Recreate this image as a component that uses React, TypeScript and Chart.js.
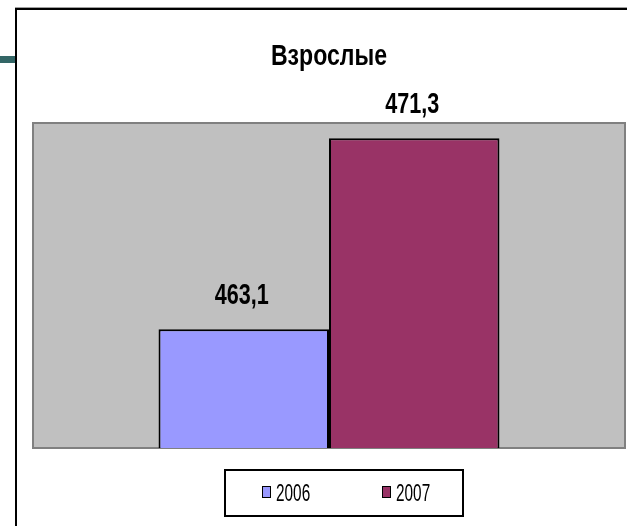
import React, { useEffect, useRef } from 'react';
import { Chart, registerables } from 'chart.js';

Chart.register(...registerables);

const chartTitle = 'Взрослые';
const categories = ['Взрослые'];
const seriesNames = ['2006', '2007'];
const values2006 = [463.1];
const values2007 = [471.3];
const seriesColors = ['#9999FF', '#993366'];
const yMin = 458;
const yMax = 472;

const FONT = "'Liberation Sans', Arial, sans-serif";

function narrowText(ctx: CanvasRenderingContext2D, text: string, x: number, y: number, align: CanvasTextAlign, sx: number) {
  ctx.save();
  ctx.translate(x, y);
  ctx.scale(sx, 1);
  ctx.textAlign = align;
  ctx.textBaseline = 'alphabetic';
  ctx.fillText(text, 0, 0);
  ctx.restore();
}

const decorPlugin = {
  id: 'decor',
  beforeDraw(chart: any) {
    const ctx = chart.ctx;
    const { left, top, right, bottom } = chart.chartArea;
    ctx.save();
    ctx.fillStyle = '#FFFFFF';
    ctx.fillRect(0, 0, chart.width, chart.height);
    // slide frame
    ctx.fillStyle = '#336666';
    ctx.fillRect(0, 56, 15, 7);
    ctx.fillStyle = '#A0A0A0';
    ctx.fillRect(15, 7, chart.width - 15, 1);
    ctx.fillStyle = '#000000';
    ctx.fillRect(15, 8, chart.width - 15, 2);
    ctx.fillRect(15, 8, 2, chart.height - 8);
    // plot area
    ctx.fillStyle = '#C0C0C0';
    ctx.fillRect(left, top, right - left, bottom - top + 1);
    ctx.strokeStyle = '#808080';
    ctx.lineWidth = 2;
    ctx.strokeRect(left + 1, top + 1, right - left - 2, bottom - top - 1);
    ctx.restore();
  },
  afterDatasetsDraw(chart: any) {
    const ctx = chart.ctx;
    ctx.save();
    ctx.fillStyle = '#000000';
    ctx.font = `bold 30px ${FONT}`;
    chart.data.datasets.forEach((ds: any, i: number) => {
      const meta = chart.getDatasetMeta(i);
      meta.data.forEach((bar: any, j: number) => {
        const v = ds.data[j] as number;
        narrowText(ctx, v.toFixed(1).replace('.', ','), bar.x - 2, bar.y - 25, 'center', 0.72);
      });
    });
    ctx.restore();
  },
  afterDraw(chart: any) {
    const ctx = chart.ctx;
    const { left, right } = chart.chartArea;
    ctx.save();
    ctx.fillStyle = '#000000';
    ctx.font = `bold 30px ${FONT}`;
    narrowText(ctx, chartTitle, (left + right) / 2, 65, 'center', 0.77);
    // legend
    ctx.strokeStyle = '#000000';
    ctx.lineWidth = 2;
    ctx.strokeRect(225, 470, 238, 46);
    ctx.font = `24px ${FONT}`;
    chart.data.datasets.forEach((ds: any, i: number) => {
      const x0 = 262 + i * 120;
      ctx.fillStyle = ds.backgroundColor;
      ctx.fillRect(x0, 486, 9, 12);
      ctx.lineWidth = 1;
      ctx.strokeStyle = '#000000';
      ctx.strokeRect(x0 + 0.5, 486.5, 8, 11);
      ctx.fillStyle = '#000000';
      narrowText(ctx, ds.label, x0 + 14, 501, 'left', 0.64);
    });
    ctx.restore();
  },
};

export default function App() {
  const canvasRef = useRef<HTMLCanvasElement | null>(null);

  useEffect(() => {
    if (!canvasRef.current) return;
    const chart = new Chart(canvasRef.current, {
      type: 'bar',
      data: {
        labels: categories,
        datasets: [
          {
            label: seriesNames[0],
            data: values2006,
            backgroundColor: seriesColors[0],
            borderColor: '#000000',
            borderWidth: 2,
            borderSkipped: false,
          },
          {
            label: seriesNames[1],
            data: values2007,
            backgroundColor: seriesColors[1],
            borderColor: '#000000',
            borderWidth: 2,
            borderSkipped: false,
          },
        ],
      },
      options: {
        responsive: false,
        animation: false,
        layout: { padding: { left: 32, right: 1, top: 122, bottom: 78 } },
        datasets: { bar: { categoryPercentage: 0.574, barPercentage: 1.0 } },
        scales: {
          x: { display: false },
          y: { display: false, min: yMin, max: yMax },
        },
        plugins: {
          legend: { display: false },
          title: { display: false },
          tooltip: { enabled: false },
        },
      },
      plugins: [decorPlugin],
    });
    return () => chart.destroy();
  }, []);

  return (
    <div style={{ position: 'fixed', left: 0, top: 0, width: 627, height: 526 }}>
      <canvas ref={canvasRef} width={627} height={526} style={{ display: 'block' }} />
    </div>
  );
}
